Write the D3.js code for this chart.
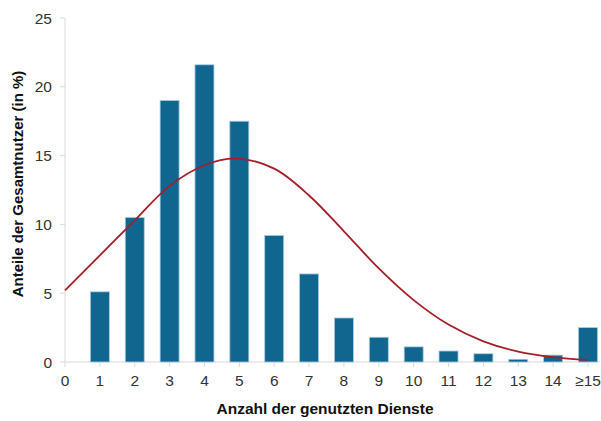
<!DOCTYPE html>
<html><head><meta charset="utf-8">
<script src="https://cdn.jsdelivr.net/npm/d3@7"></script>
<style>body{margin:0;background:#fff}svg{display:block}text{font-family:"Liberation Sans",Arial,sans-serif}</style>
</head><body>
<svg id="c" width="601" height="421"></svg>
<script>
const categories = ["1","2","3","4","5","6","7","8","9","10","11","12","13","14","≥15"];
const categoryPositions = [1,2,3,4,5,6,7,8,9,10,11,12,13,14,15];
const shares = [5.1,10.5,19.0,21.6,17.5,9.2,6.4,3.2,1.8,1.1,0.8,0.6,0.2,0.5,2.5];
const xTickLabels = ["0","1","2","3","4","5","6","7","8","9","10","11","12","13","14","≥15"];
const yTicks = [0,5,10,15,20,25];
// fitted curve
const curveX = [0,1,2,3,4,4.87,6,7,8,9,10,11,12,13,14,15];
const curveY = [5.2,7.75,10.3,12.8,14.3,14.8,14.05,12.1,9.5,6.8,4.5,2.72,1.5,0.76,0.36,0.15];

const svg = d3.select("#c");
const x = d3.scaleLinear().domain([0,15]).range([65,588]);
const y = d3.scaleLinear().domain([0,25]).range([362,18]);
const axisCol = "#d9d9d9", textCol = "#333";

// axes
svg.append("line").attr("x1",65).attr("x2",65).attr("y1",y(25)).attr("y2",y(0)).attr("stroke",axisCol);
svg.append("line").attr("x1",65).attr("x2",600).attr("y1",y(0)).attr("y2",y(0)).attr("stroke",axisCol);
yTicks.forEach(t=>{
  svg.append("line").attr("x1",60).attr("x2",65).attr("y1",y(t)).attr("y2",y(t)).attr("stroke",axisCol);
  svg.append("text").attr("x",52).attr("y",y(t)+5.5).attr("text-anchor","end").attr("font-size",15.5).attr("fill",textCol).text(t);
});
xTickLabels.forEach((t,i)=>{
  svg.append("line").attr("x1",x(i)).attr("x2",x(i)).attr("y1",y(0)).attr("y2",y(0)+5).attr("stroke",axisCol);
  svg.append("text").attr("x",x(i)).attr("y",386).attr("text-anchor","middle").attr("font-size",15.5).attr("fill",textCol).text(t);
});

// bars
const bw = 19;
svg.selectAll("rect.bar").data(shares).enter().append("rect")
  .attr("x",(d,i)=>x(categoryPositions[i])-bw/2)
  .attr("y",d=>y(d))
  .attr("width",bw).attr("height",d=>y(0)-y(d))
  .attr("fill","#10668f").attr("stroke","#a9cde3").attr("stroke-width",0.8);

// curve
const pts = curveX.map((v,i)=>[v,curveY[i]]);
svg.append("path").datum(pts)
  .attr("d",d3.line().x(d=>x(d[0])).y(d=>y(d[1])).curve(d3.curveCatmullRom))
  .attr("fill","none").attr("stroke","#a31f2a").attr("stroke-width",1.8);

// labels
svg.append("text").attr("transform","translate(23,184) rotate(-90)").attr("text-anchor","middle")
  .attr("font-size",15).attr("font-weight","bold").attr("fill","#111").text("Anteile der Gesamtnutzer (in %)");
svg.append("text").attr("x",325).attr("y",414).attr("text-anchor","middle")
  .attr("font-size",15.5).attr("font-weight","bold").attr("fill","#111").text("Anzahl der genutzten Dienste");
</script>
</body></html>
